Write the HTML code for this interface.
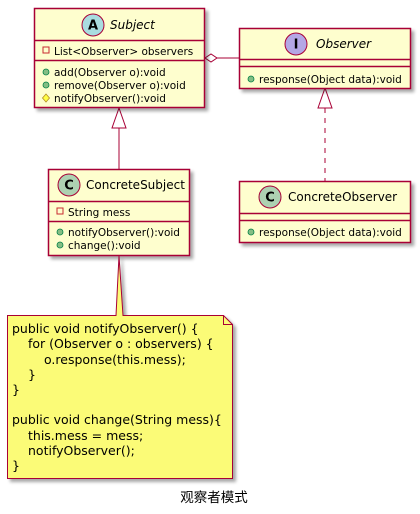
<!DOCTYPE html>
<html><head><meta charset="utf-8"><style>
html,body{margin:0;padding:0;background:#fff;width:420px;height:514px;overflow:hidden}
text{font-family:"DejaVu Sans","Noto Sans CJK SC",sans-serif;font-size:10.5px;fill:#000}
</style></head><body>
<svg width="420" height="514" viewBox="0 0 420 514" xmlns="http://www.w3.org/2000/svg">
<defs><filter id="sh" x="-10%" y="-10%" width="130%" height="130%"><feGaussianBlur in="SourceAlpha" stdDeviation="1.5"/><feOffset dx="3" dy="3"/><feComponentTransfer><feFuncA type="linear" slope="0.35"/></feComponentTransfer><feMerge><feMergeNode/><feMergeNode in="SourceGraphic"/></feMerge></filter></defs>

<line x1="119" y1="128" x2="119" y2="169" stroke="#A80036"/>
<polygon points="119,108 112,128 126,128" fill="#fff" stroke="#A80036"/>
<line x1="325" y1="108" x2="325" y2="181" stroke="#A80036" stroke-dasharray="5,5"/>
<polygon points="325,88 318,108 332,108" fill="#fff" stroke="#A80036"/>
<line x1="217" y1="58" x2="239" y2="58" stroke="#A80036"/>
<polygon points="205,58 211,54 217,58 211,62" fill="#fff" stroke="#A80036"/>

<g filter="url(#sh)">
<rect x="34.5" y="8.5" width="170" height="99" fill="#FEFECE" stroke="#A80036" stroke-width="1.5"/>
</g>
<line x1="34.5" y1="40.5" x2="204.5" y2="40.5" stroke="#A80036" stroke-width="1.5"/>
<line x1="34.5" y1="60.5" x2="204.5" y2="60.5" stroke="#A80036" stroke-width="1.5"/>
<circle cx="93" cy="25" r="11" fill="#A9DCDF" stroke="#A80036"/>
<text x="93" y="29.5" text-anchor="middle" style="font-weight:bold;font-size:13px">A</text>
<text x="110" y="29" style="font-style:italic;font-size:12px">Subject</text>
<rect x="43" y="47" width="6" height="6" fill="none" stroke="#C82930"/>
<text x="54" y="55">List&lt;Observer&gt; observers</text>
<circle cx="46" cy="72" r="3" fill="#84BE84" stroke="#038048" stroke-width=".8"/>
<text x="54" y="76">add(Observer o):void</text>
<circle cx="46" cy="85" r="3" fill="#84BE84" stroke="#038048" stroke-width=".8"/>
<text x="54" y="89">remove(Observer o):void</text>
<polygon points="46,94 49.5,98 46,102 42.5,98" fill="#FFFF44" stroke="#B38D22" stroke-width=".8"/>
<text x="54" y="102">notifyObserver():void</text>

<g filter="url(#sh)">
<rect x="239.5" y="28.5" width="171" height="60" fill="#FEFECE" stroke="#A80036" stroke-width="1.5"/>
</g>
<line x1="239.5" y1="59.5" x2="410.5" y2="59.5" stroke="#A80036" stroke-width="1.5"/>
<line x1="239.5" y1="66.5" x2="410.5" y2="66.5" stroke="#A80036" stroke-width="1.5"/>
<circle cx="296" cy="44" r="11" fill="#B4A7E5" stroke="#A80036"/>
<text x="296" y="48.5" text-anchor="middle" style="font-weight:bold;font-size:13px">I</text>
<text x="316" y="48" style="font-style:italic;font-size:12px">Observer</text>
<circle cx="251" cy="79" r="3" fill="#84BE84" stroke="#038048" stroke-width=".8"/>
<text x="259" y="83">response(Object data):void</text>

<g filter="url(#sh)">
<rect x="48.5" y="169.5" width="141" height="86" fill="#FEFECE" stroke="#A80036" stroke-width="1.5"/>
</g>
<line x1="48.5" y1="201.5" x2="189.5" y2="201.5" stroke="#A80036" stroke-width="1.5"/>
<line x1="48.5" y1="221.5" x2="189.5" y2="221.5" stroke="#A80036" stroke-width="1.5"/>
<circle cx="69" cy="185" r="11" fill="#ADD1B2" stroke="#A80036"/>
<text x="69" y="189.5" text-anchor="middle" style="font-weight:bold;font-size:13px">C</text>
<text x="86" y="189" style="font-size:12px">ConcreteSubject</text>
<rect x="57" y="208" width="6" height="6" fill="none" stroke="#C82930"/>
<text x="68" y="216">String mess</text>
<circle cx="60" cy="232" r="3" fill="#84BE84" stroke="#038048" stroke-width=".8"/>
<text x="68" y="236">notifyObserver():void</text>
<circle cx="60" cy="245" r="3" fill="#84BE84" stroke="#038048" stroke-width=".8"/>
<text x="68" y="249">change():void</text>

<g filter="url(#sh)">
<rect x="239.5" y="181.5" width="171" height="61" fill="#FEFECE" stroke="#A80036" stroke-width="1.5"/>
</g>
<line x1="239.5" y1="213.5" x2="410.5" y2="213.5" stroke="#A80036" stroke-width="1.5"/>
<line x1="239.5" y1="220.5" x2="410.5" y2="220.5" stroke="#A80036" stroke-width="1.5"/>
<circle cx="270" cy="197" r="11" fill="#ADD1B2" stroke="#A80036"/>
<text x="270" y="201.5" text-anchor="middle" style="font-weight:bold;font-size:13px">C</text>
<text x="288" y="201" style="font-size:12px">ConcreteObserver</text>
<circle cx="251" cy="232" r="3" fill="#84BE84" stroke="#038048" stroke-width=".8"/>
<text x="259" y="236">response(Object data):void</text>

<g filter="url(#sh)">
<path d="M7.5,315.5 L116,315.5 L119,256 L123,315.5 L223.5,315.5 L232.5,324.5 L232.5,478.5 L7.5,478.5 Z" fill="#FBFB77" stroke="#A80036" stroke-width="1"/>
</g>
<path d="M223.5,315.5 L223.5,324.5 L232.5,324.5" fill="none" stroke="#A80036"/>
<text x="12" y="333" style="font-size:12.5px">public void notifyObserver() {</text>
<text x="28" y="348" style="font-size:12.5px">for (Observer o : observers) {</text>
<text x="44" y="364" style="font-size:12.5px">o.response(this.mess);</text>
<text x="28" y="379" style="font-size:12.5px">}</text>
<text x="12" y="394" style="font-size:12.5px">}</text>
<text x="12" y="424" style="font-size:12.5px">public void change(String mess){</text>
<text x="28" y="440" style="font-size:12.5px">this.mess = mess;</text>
<text x="28" y="455" style="font-size:12.5px">notifyObserver();</text>
<text x="12" y="470" style="font-size:12.5px">}</text>
<text x="214" y="502" text-anchor="middle" style="font-size:13.5px">观察者模式</text>
</svg>
</body></html>
